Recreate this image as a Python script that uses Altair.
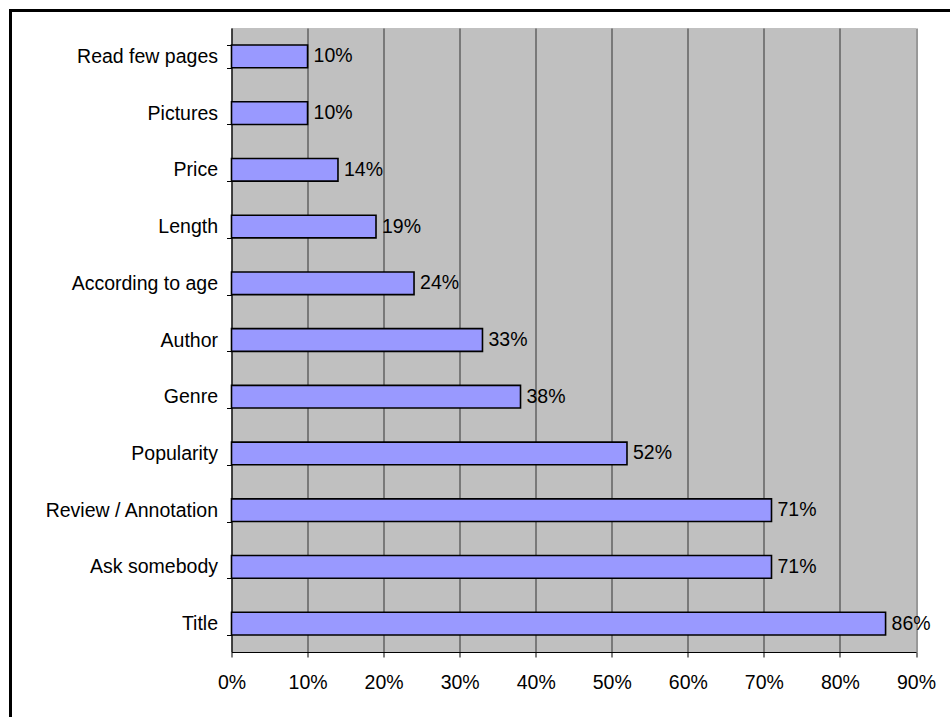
import altair as alt
import pandas as pd

# Survey: how readers choose a book (share of respondents)
factors = [
    "Read few pages", "Pictures", "Price", "Length", "According to age",
    "Author", "Genre", "Popularity", "Review / Annotation", "Ask somebody", "Title",
]
percent = [10, 10, 14, 19, 24, 33, 38, 52, 71, 71, 86]
x_ticks = [0, 0.1, 0.2, 0.3, 0.4, 0.5, 0.6, 0.7, 0.8, 0.9]

df = pd.DataFrame({"factor": factors, "percent": percent})

FONT = "Liberation Sans"
FS = 19.5

base = alt.Chart(df).transform_calculate(share="datum.percent / 100")

y_enc = alt.Y(
    "factor:N",
    sort=factors,
    scale=alt.Scale(paddingInner=0.6, paddingOuter=0.3),
    axis=alt.Axis(
        title=None, tickBand="extent", tickSize=5, tickColor="black",
        domainColor="black", labelFont=FONT, labelFontSize=FS,
        labelColor="black", labelPadding=9, grid=False,
    ),
)
x_enc = alt.X(
    "share:Q",
    scale=alt.Scale(domain=[0, 0.9], nice=False),
    axis=alt.Axis(
        title=None, values=x_ticks, format=".0%", tickSize=5,
        tickColor="black", domainColor="black", grid=True,
        gridColor="#333333", gridWidth=1, gridOpacity=1,
        labelFont=FONT, labelFontSize=FS, labelColor="black",
        labelPadding=16, labelFlush=False,
    ),
)

bars = base.mark_bar(
    fill="#9999FF", stroke="black", strokeWidth=1.6
).encode(x=x_enc, y=y_enc)

labels = base.mark_text(
    align="left", baseline="middle", dx=6, font=FONT, fontSize=FS, color="black"
).encode(
    x=alt.X("share:Q"),
    y=alt.Y("factor:N", sort=factors),
    text=alt.Text("share:Q", format=".0%"),
)

# Outer frame around the whole figure
frame = alt.Chart(df).mark_rect(
    fill=None, stroke="black", strokeWidth=2.5
).encode(
    x=alt.value(-221), x2=alt.value(800),
    y=alt.value(-17.5), y2=alt.value(800),
)

chart = alt.layer(bars, labels, frame).properties(
    width=684.5,
    height=624,
    autosize=alt.AutoSizeParams(type="none"),
    padding={"left": 231.5, "top": 28, "right": 34, "bottom": 65},
    background="white",
).configure_view(
    fill="#C0C0C0", stroke=None
)

chart.save("out.html", embed_options={"renderer": "svg", "actions": False})
